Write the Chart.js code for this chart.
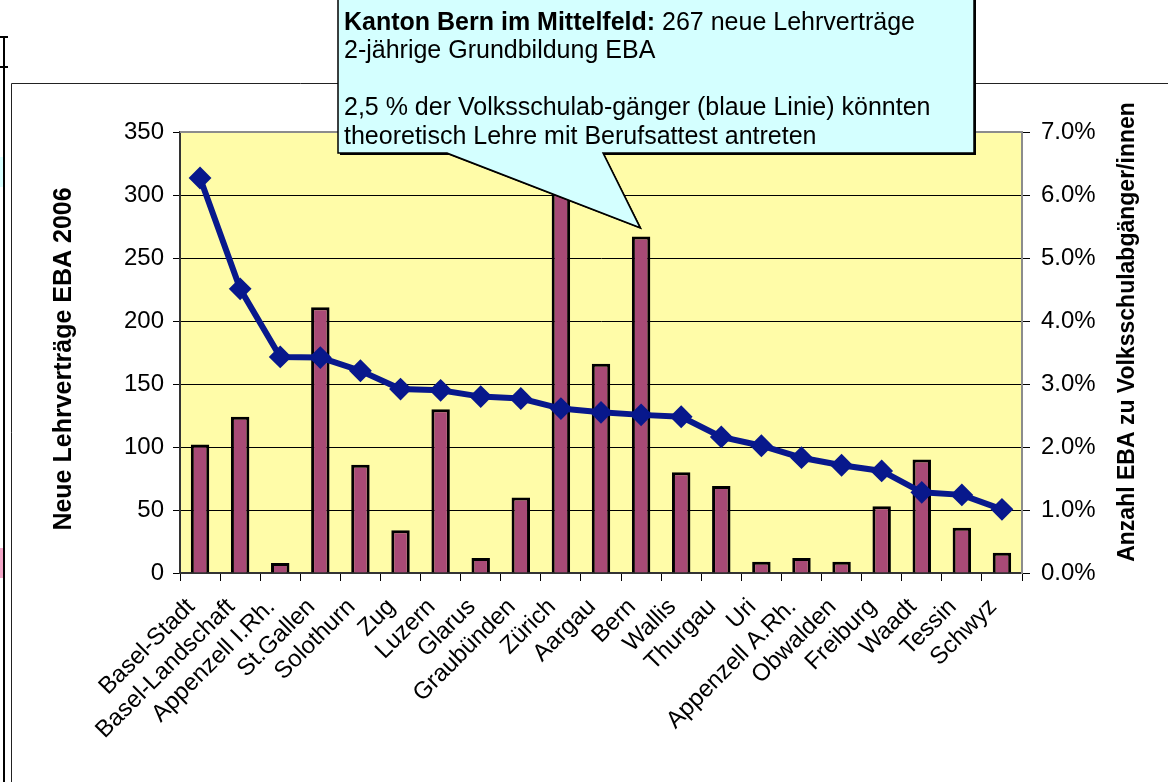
<!DOCTYPE html>
<html>
<head>
<meta charset="utf-8">
<script src="https://cdn.jsdelivr.net/npm/chart.js@4"></script>
<style>
  html, body { margin: 0; padding: 0; background: #fff; }
  canvas { display: block; }
</style>
</head>
<body>
<canvas id="ebaChart" width="1168" height="782"></canvas>
<script>
// Daten
const kantone = ['Basel-Stadt', 'Basel-Landschaft', 'Appenzell I.Rh.', 'St.Gallen', 'Solothurn', 'Zug',
    'Luzern', 'Glarus', 'Graubünden', 'Zürich', 'Aargau', 'Bern', 'Wallis', 'Thurgau', 'Uri',
    'Appenzell A.Rh.', 'Obwalden', 'Freiburg', 'Waadt', 'Tessin', 'Schwyz'];
const lehrvertraege = [102, 124, 8, 211, 86, 34, 130, 12, 60, 340, 166, 267, 80, 69, 9, 12, 9, 53, 90, 36, 16];
const anteilProzent = [6.27, 4.51, 3.43, 3.42, 3.21, 2.92, 2.90, 2.80, 2.77, 2.61, 2.55, 2.51, 2.48, 2.16,
    2.02, 1.83, 1.71, 1.62, 1.28, 1.24, 1.01];
const linkeAchse = { min: 0, max: 350, step: 50 };
const rechteAchse = { min: 0, max: 7, step: 1 };

const titelLinks = 'Neue Lehrverträge EBA 2006';
const titelRechts = 'Anzahl EBA zu Volksschulabgänger/innen';
const hinweisFett = 'Kanton Bern im Mittelfeld:';
const hinweisZeilen = [' 267 neue Lehrverträge', '2-jährige Grundbildung EBA', '',
    '2,5 % der Volksschulab-gänger (blaue Linie) könnten', 'theoretisch Lehre mit Berufsattest antreten'];
const bernIndex = kantone.indexOf('Bern');

const FONT = "'Liberation Sans', Arial, sans-serif";

// Hintergrund, Rahmen, Achsentitel und Sprechblase
const deko = {
    id: 'deko',
    beforeDraw(chart) {
        const c = chart.ctx, a = chart.chartArea;
        c.save();
        c.fillStyle = '#fff';
        c.fillRect(0, 0, chart.width, chart.height);
        // Reste der Folie links
        c.fillStyle = '#d8ffff';
        c.fillRect(0, 157, 5, 30);
        c.fillStyle = '#f4a6c8';
        c.fillRect(0, 548, 3, 30);
        c.strokeStyle = '#000';
        c.lineWidth = 2;
        c.beginPath();
        c.moveTo(4, 37); c.lineTo(4, 782);
        c.moveTo(0, 37); c.lineTo(8, 37);
        c.moveTo(0, 67); c.lineTo(8, 67);
        c.stroke();
        c.lineWidth = 1;
        c.strokeStyle = '#222';
        c.beginPath();
        c.moveTo(11.5, 782); c.lineTo(11.5, 83.5); c.lineTo(1168, 83.5);
        c.stroke();
        // Zeichnungsfläche
        c.fillStyle = '#fffca8';
        c.fillRect(a.left, a.top, a.right - a.left, a.bottom - a.top);
        c.restore();
    },
    afterDatasetsDraw(chart) {
        const c = chart.ctx, a = chart.chartArea;
        c.save();
        c.strokeStyle = '#8c8c8c';
        c.lineWidth = 2;
        c.beginPath();
        c.moveTo(a.left, a.top); c.lineTo(a.right, a.top); c.lineTo(a.right, a.bottom);
        c.stroke();

        // Achsentitel
        c.fillStyle = '#000';
        c.font = 'bold 25px ' + FONT;
        c.textAlign = 'center';
        c.textBaseline = 'middle';
        c.translate(64, 359);
        c.rotate(-Math.PI / 2);
        c.fillText(titelLinks, 0, 0);
        c.setTransform(1, 0, 0, 1, 0, 0);
        c.translate(1128, 332);
        c.rotate(-Math.PI / 2);
        c.font = 'bold 23px ' + FONT;
        c.fillText(titelRechts, 0, 0);
        c.setTransform(1, 0, 0, 1, 0, 0);

        // Sprechblase zu Bern
        const tx = chart.scales.x.getPixelForValue(bernIndex) - 1;
        const ty = chart.scales.y.getPixelForValue(lehrvertraege[bernIndex]) - 9;
        const L = 338, R = 974, T = -3, B = 153;
        const pfad = () => {
            c.beginPath();
            c.moveTo(L, T); c.lineTo(R, T); c.lineTo(R, B);
            c.lineTo(603, B); c.lineTo(tx, ty); c.lineTo(447, B);
            c.lineTo(L, B); c.closePath();
        };
        c.save();
        c.translate(2, 2);
        pfad();
        c.fillStyle = '#000';
        c.fill();
        c.restore();
        pfad();
        c.fillStyle = '#d4ffff';
        c.fill();
        c.lineWidth = 1.5;
        c.strokeStyle = '#000';
        c.stroke();

        c.fillStyle = '#000';
        c.textAlign = 'left';
        c.textBaseline = 'alphabetic';
        c.font = 'bold 25px ' + FONT;
        c.fillText(hinweisFett, 344, 30);
        const w = c.measureText(hinweisFett).width;
        c.font = '25px ' + FONT;
        c.fillText(hinweisZeilen[0], 344 + w, 30);
        const basis = [30, 58, 86, 115, 144];
        for (let i = 1; i < hinweisZeilen.length; i++) {
            c.fillText(hinweisZeilen[i], 344, basis[i]);
        }
        c.restore();
    }
};

const ctx = document.getElementById('ebaChart').getContext('2d');
const ebaChart = new Chart(ctx, {
    type: 'bar',
    data: {
        labels: kantone,
        datasets: [{
            type: 'line',
            label: 'Anteil',
            data: anteilProzent,
            yAxisID: 'y1',
            borderColor: '#08188c',
            backgroundColor: '#08188c',
            borderWidth: 6,
            pointStyle: 'rectRot',
            pointRadius: 10,
            pointBorderWidth: 2,
            tension: 0,
            order: 0
        }, {
            type: 'bar',
            label: 'Lehrverträge',
            data: lehrvertraege,
            yAxisID: 'y',
            backgroundColor: '#a84a76',
            borderColor: '#000',
            borderWidth: 3,
            categoryPercentage: 1,
            barPercentage: 0.46,
            order: 1
        }]
    },
    options: {
        responsive: false,
        animation: false,
        events: [],
        layout: { padding: { top: 132, left: 0, right: 0, bottom: 0 } },
        plugins: {
            legend: { display: false },
            tooltip: { enabled: false }
        },
        scales: {
            x: {
                grid: {
                    offset: true,
                    drawOnChartArea: false,
                    drawTicks: true,
                    tickLength: 8,
                    color: '#000'
                },
                border: { color: '#333', width: 2 },
                ticks: {
                    color: '#000',
                    font: { family: FONT, size: 24 },
                    minRotation: 45,
                    maxRotation: 45,
                    autoSkip: false,
                    padding: 12,
                    labelOffset: -9
                },
                afterFit: s => { s.height = 209; }
            },
            y: {
                position: 'left',
                min: linkeAchse.min,
                max: linkeAchse.max,
                ticks: {
                    stepSize: linkeAchse.step,
                    color: '#000',
                    font: { family: FONT, size: 24 },
                    padding: 9
                },
                grid: {
                    color: '#000',
                    lineWidth: 1,
                    tickLength: 7
                },
                border: { color: '#333', width: 2 },
                afterFit: s => { s.width = 180; }
            },
            y1: {
                position: 'right',
                min: rechteAchse.min,
                max: rechteAchse.max,
                ticks: {
                    stepSize: rechteAchse.step,
                    color: '#000',
                    font: { family: FONT, size: 24 },
                    padding: 11,
                    callback: v => v.toFixed(1) + '%'
                },
                grid: {
                    drawOnChartArea: false,
                    color: '#000',
                    tickLength: 8
                },
                border: { color: '#8c8c8c', width: 2 },
                afterFit: s => { s.width = 146; }
            }
        }
    },
    plugins: [deko]
});
</script>
</body>
</html>
